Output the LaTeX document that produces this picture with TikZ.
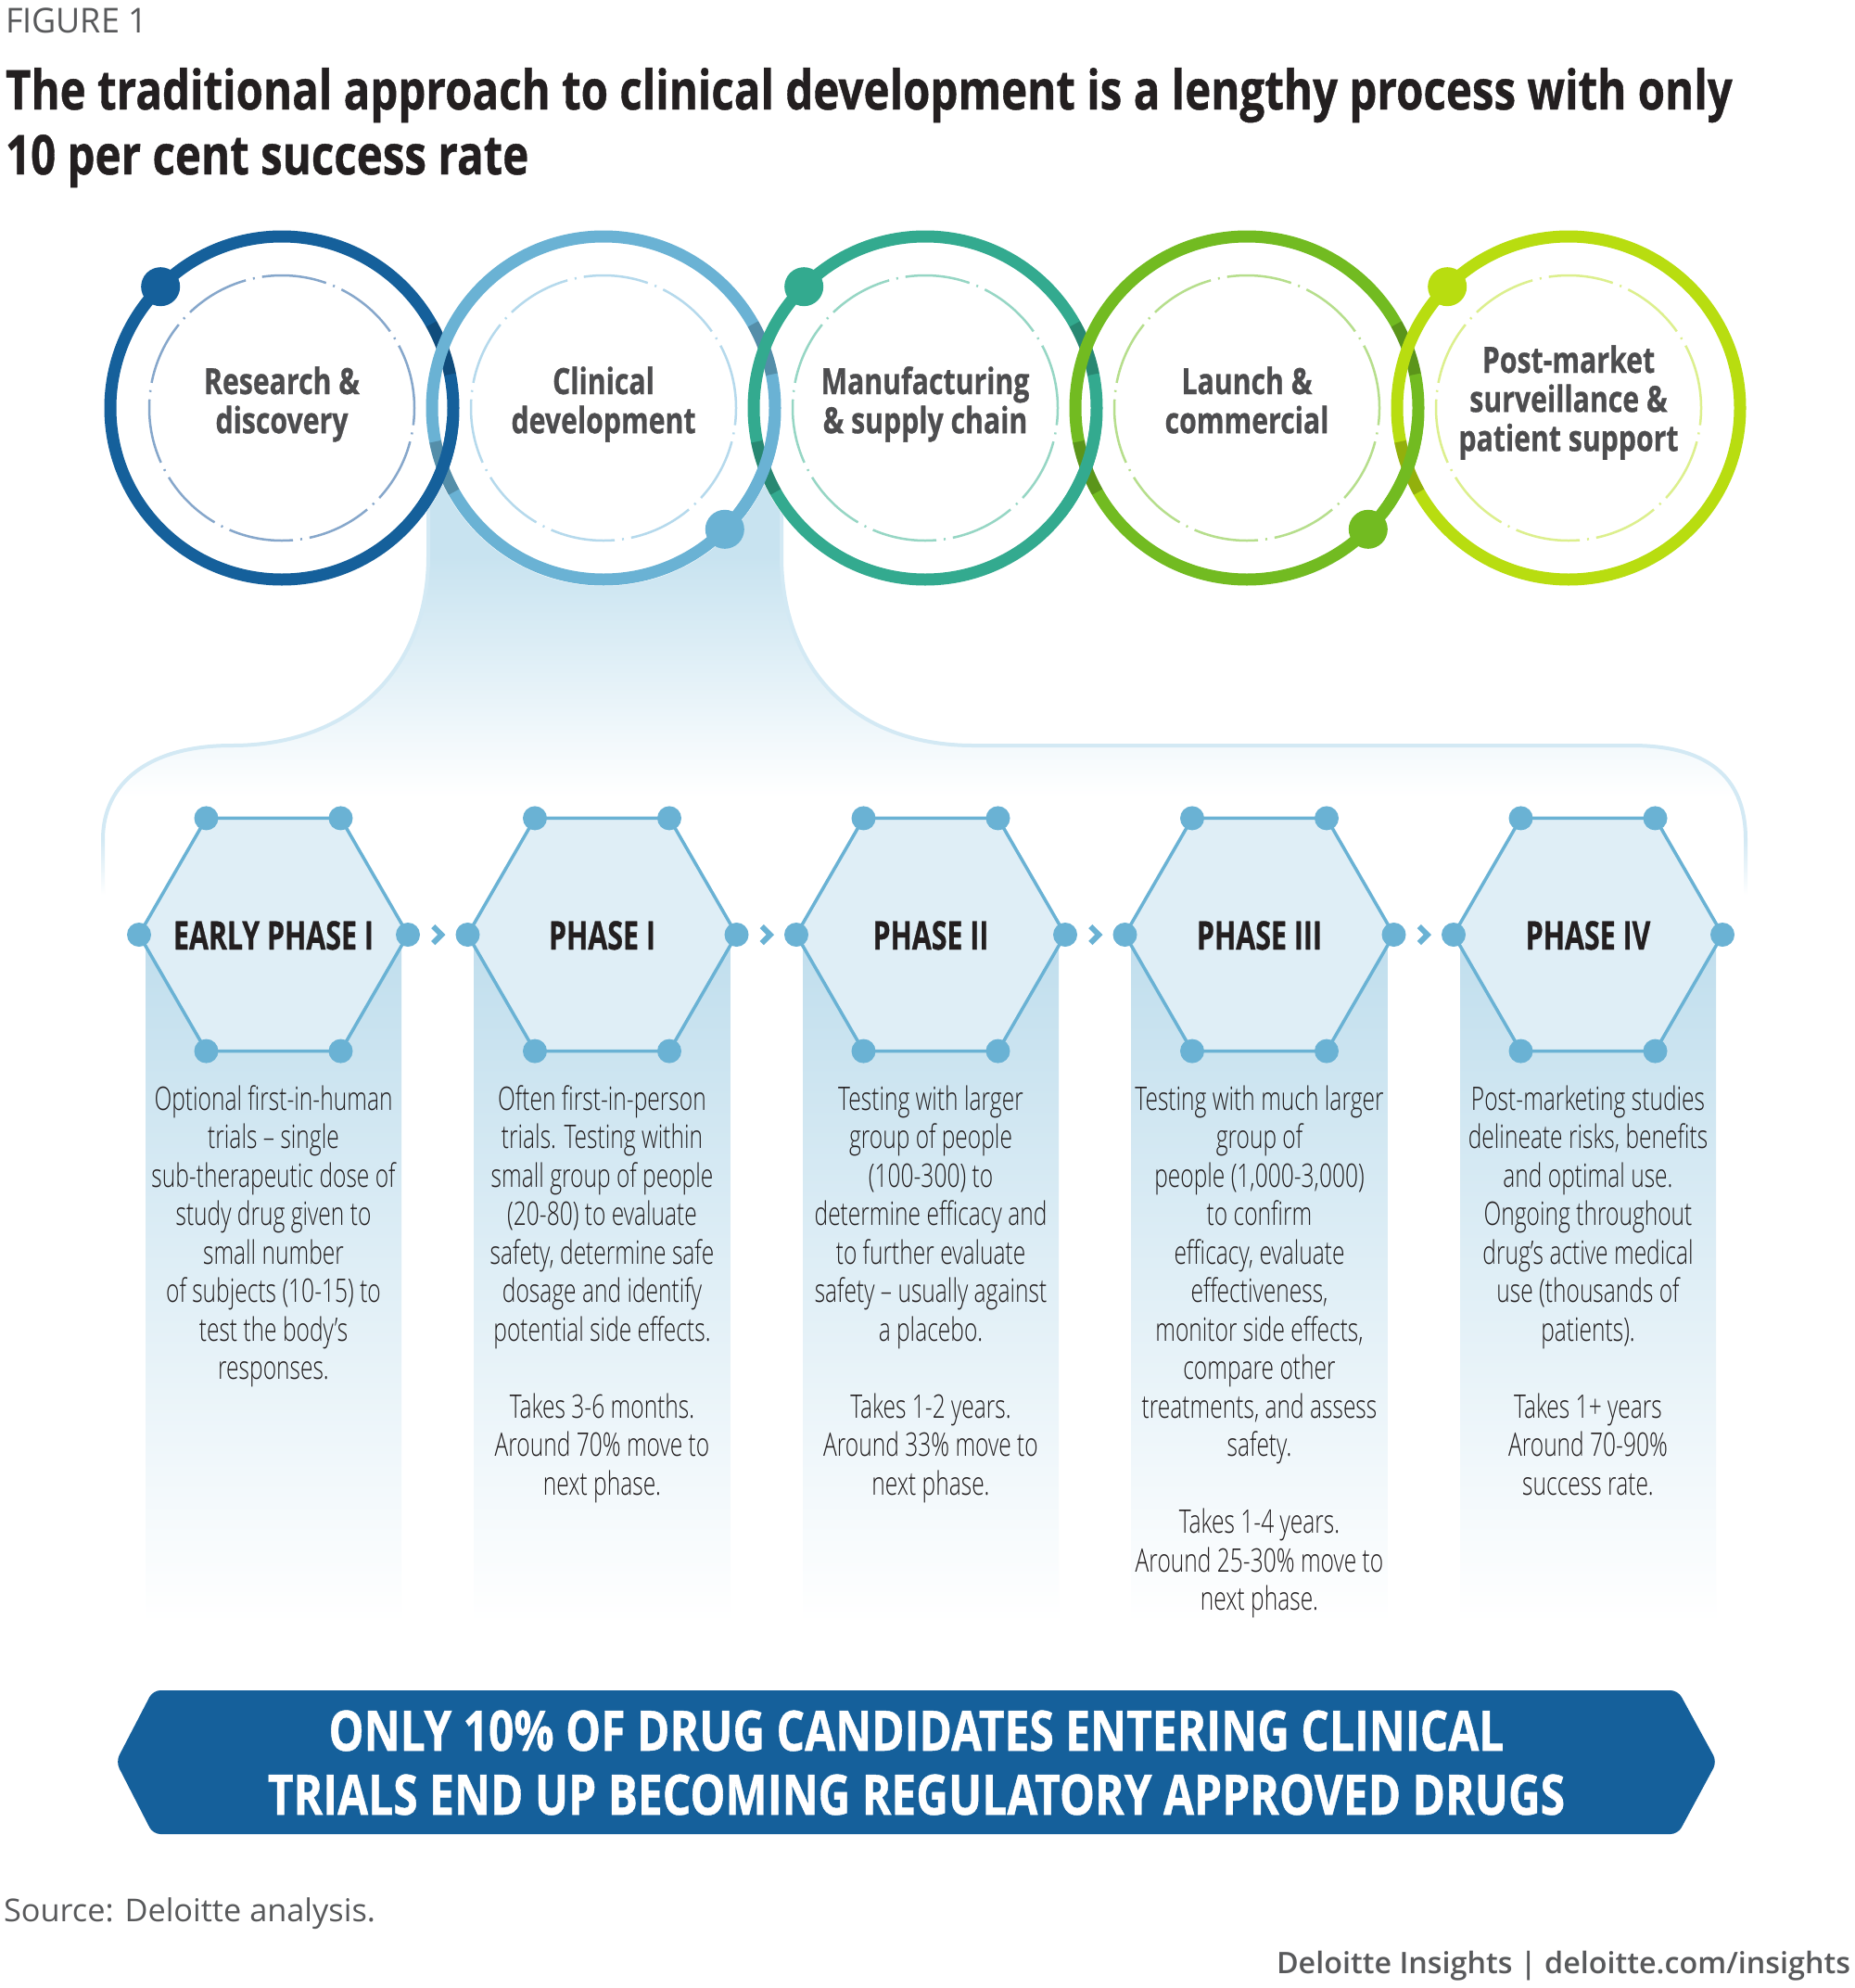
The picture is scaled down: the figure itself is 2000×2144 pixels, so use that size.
\documentclass[tikz,border=0pt]{standalone}
\usepackage{fontspec}
\usepackage{graphicx}
\setmainfont{Open Sans}
\newfontfamily\regf{Open Sans}
\IfFontExistsTF{Open Sans Light}{\newfontfamily\lightf{Open Sans Light}}{\newfontfamily\lightf{Open Sans}}
\IfFontExistsTF{Open Sans SemiBold}{\newfontfamily\semif{Open Sans SemiBold}}{%
  \IfFontExistsTF{Open Sans Semibold}{\newfontfamily\semif{Open Sans Semibold}}{\newfontfamily\semif[FakeBold=1.2]{Open Sans}}}
\IfFontExistsTF{Open Sans ExtraBold}{\newfontfamily\heavyf{Open Sans ExtraBold}}{\newfontfamily\heavyf[FakeBold=0.8]{Open Sans Bold}}

\definecolor{cA}{HTML}{15609B}
\definecolor{cB}{HTML}{6AB2D4}
\definecolor{cC}{HTML}{33AA8F}
\definecolor{cD}{HTML}{72BB21}
\definecolor{cE}{HTML}{B8DD10}
\definecolor{dA}{HTML}{86A7CB}
\definecolor{dB}{HTML}{B5D9EC}
\definecolor{dC}{HTML}{96D6C4}
\definecolor{dD}{HTML}{B6DE8C}
\definecolor{dE}{HTML}{DCEF8D}
\definecolor{lblgray}{HTML}{4D4D4F}
\definecolor{ink}{HTML}{231F20}
\definecolor{hexfill}{HTML}{DFEEF6}
\definecolor{colc}{HTML}{C0DEED}
\definecolor{funnelc}{HTML}{C8E3F0}
\definecolor{funnell}{HTML}{D3E9F4}
\definecolor{notegray}{HTML}{58595B}

\newsavebox\fitbox
\newcommand\fitw[2]{\sbox\fitbox{#2}\pgfmathsetmacro\fitfac{#1/\the\wd\fitbox}\scalebox{\fitfac}[1]{\usebox\fitbox}}
\newcommand\setfac[3]{\sbox\fitbox{#3}\pgfmathsetmacro\tmpfac{#2/\the\wd\fitbox}\global\let#1\tmpfac}
\newcommand\boldf[2]{\heavyf\fontsize{#1}{#2}\selectfont}
\newcommand\bodyf{\lightf\fontsize{35}{41.5}\selectfont}
\newcommand\labtext[1]{\boldf{39}{42}\scalebox{\labfac}[1]{\begin{tabular}[t]{@{}c@{}}#1\end{tabular}}}
\newcommand\hextext[1]{\boldf{42.5}{50}\scalebox{\hexfac}[1]{#1}}
\newcommand\bodytext[1]{\bodyf\scalebox{\bodyfac}[1]{\begin{tabular}[t]{@{}c@{}}#1\end{tabular}}}
\newcommand\ringarc[4]{\draw[ring,#2] (#1,-440) ++(#3:185) arc[start angle=#3,end angle=#4,radius=185];}
\newcommand\shadowarc[2]{\draw[line width=13pt,black,opacity=0.2] (#1,-440) ++(#2-9:185) arc[start angle=#2-9,end angle=#2+9,radius=185];}

\AtBeginDocument{%
\setfac\titlefac{1863}{\boldf{59}{70}The traditional approach to clinical development is a lengthy process with only}%
\setfac\labfac{168}{\boldf{39}{42}Research \&}%
\setfac\hexfac{216}{\boldf{42.5}{50}EARLY PHASE I}%
\setfac\bodyfac{257}{\bodyf Optional first-in-human}%
\setfac\banfac{1268}{\boldf{60}{69}ONLY 10\% OF DRUG CANDIDATES ENTERING CLINICAL}%
}

\begin{document}
\begin{tikzpicture}[x=1pt,y=1pt,
  every node/.style={inner sep=0pt,outer sep=0pt},
  ring/.style={line width=13pt},
  inring/.style={line width=2.5pt,dash pattern=on 70pt off 8pt on 2pt off 8pt},
  hexshape/.style={draw=cB,line width=3.5pt,fill=hexfill,line join=round},
  chev/.style={draw=cB,line width=6pt,line join=miter},
  funnelline/.style={draw=funnell,line width=4pt},
  lbl/.style={anchor=base,text=lblgray},
  hexlbl/.style={anchor=base,text=ink},
  bodytxt/.style={anchor=base,text=ink},
  notetext/.style={text=notegray}]
\useasboundingbox (0,0) rectangle (2000,-2144);
\fill[white] (0,0) rectangle (2000,-2144);

% header
\node[anchor=base west,notetext] (fig) at (6,-35) {\regf\fontsize{37}{44}\selectfont\fitw{153}{FIGURE 1}};
\node[anchor=base west,text=ink] (title) at (6,-118) {\boldf{59}{70}\scalebox{\titlefac}[1]{\begin{tabular}[t]{@{}l@{}}The traditional approach to clinical development is a lengthy process with only\\10 per cent success rate\end{tabular}}};

% funnel
\begin{scope}
\clip (462,-440) -- (462,-600) .. controls (462,-720) and (380,-804) .. (250,-804) .. controls (160,-804) and (111,-845) .. (111,-905) -- (111,-965) -- (1883,-965) -- (1883,-905) .. controls (1883,-845) and (1850,-804) .. (1760,-804) -- (1050,-804) .. controls (920,-804) and (843,-720) .. (843,-600) -- (843,-440) -- cycle;
\fill[funnelc] (0,-430) rectangle (2000,-600);
\fill[top color=funnelc,bottom color=white] (0,-600) rectangle (2000,-860);
\end{scope}
\draw[funnelline] (462,-470) -- (462,-600) .. controls (462,-720) and (380,-804) .. (250,-804) .. controls (160,-804) and (111,-845) .. (111,-905);
\draw[funnelline] (843,-470) -- (843,-600) .. controls (843,-720) and (920,-804) .. (1050,-804) -- (1760,-804) .. controls (1850,-804) and (1883,-845) .. (1883,-905);
\fill[top color=funnell,bottom color=white] (109,-905) rectangle (113,-965);
\fill[top color=funnell,bottom color=white] (1881,-905) rectangle (1885,-965);

% rings
\foreach \cx in {304,651,998,1345,1692} \fill[white] (\cx,-440) circle (192);
\draw[ring,cA] (304,-440) circle (185);
\shadowarc{304}{20.3}
\draw[ring,cB] (651,-440) circle (185);
\shadowarc{651}{200.3}
\ringarc{304}{cA}{-38}{-3}
\shadowarc{651}{20.3}
\draw[ring,cC] (998,-440) circle (185);
\shadowarc{998}{200.3}
\ringarc{651}{cB}{-38}{-3}
\shadowarc{998}{20.3}
\draw[ring,cD] (1345,-440) circle (185);
\shadowarc{1345}{200.3}
\ringarc{998}{cC}{-38}{-3}
\shadowarc{1345}{20.3}
\draw[ring,cE] (1692,-440) circle (185);
\shadowarc{1692}{200.3}
\ringarc{1345}{cD}{-38}{-3}

\foreach \cx/\dc/\rc/\da in {304/dA/cA/135,651/dB/cB/-45,998/dC/cC/135,1345/dD/cD/-45,1692/dE/cE/135}{
  \draw[inring,\dc] (\cx,-440) circle (143);
  \fill[\rc] (\cx,-440) ++(\da:185) circle (21);
}

\node[lbl] (r1) at (304,-425) {\labtext{Research \&\\discovery}};
\node[lbl] (r2) at (651,-425) {\labtext{Clinical\\development}};
\node[lbl] (r3) at (998,-425) {\labtext{Manufacturing\\\& supply chain}};
\node[lbl] (r4) at (1345,-425) {\labtext{Launch \&\\commercial}};
\node[lbl] (r5) at (1692,-402) {\labtext{Post-market\\surveillance \&\\patient support}};

% columns and hexagons
\foreach \hx [count=\i] in {295,649.5,1004,1358.5,1713}{
  \fill[top color=colc,bottom color=white] (\hx-138,-1008) rectangle (\hx+138,-1750);
  \begin{scope}[shift={(\hx,-1008)}]
    \coordinate (hc\i) at (0,0);
    \draw[hexshape] (0:145) -- (60:145) -- (120:145) -- (180:145) -- (240:145) -- (300:145) -- cycle;
    \foreach \a in {0,60,...,300} \fill[cB] (\a:145) circle (13);
  \end{scope}
}
\foreach \mx in {472.25,826.75,1181.25,1535.75}
  \draw[chev] (\mx-5,-999) -- (\mx+4,-1008) -- (\mx-5,-1017);

\node[hexlbl] (p1) at (295,-1024) {\hextext{EARLY PHASE I}};
\node[hexlbl] (p2) at (649.5,-1024) {\hextext{PHASE I}};
\node[hexlbl] (p3) at (1004,-1024) {\hextext{PHASE II}};
\node[hexlbl] (p4) at (1358.5,-1024) {\hextext{PHASE III}};
\node[hexlbl] (p5) at (1713,-1024) {\hextext{PHASE IV}};

\node[bodytxt] (t1) at (295,-1197) {\bodytext{Optional first-in-human\\trials – single\\sub-therapeutic dose of\\study drug given to\\small number\\of subjects (10-15) to\\test the body’s\\responses.}};
\node[bodytxt] (t2) at (649.5,-1197) {\bodytext{Often first-in-person\\trials. Testing within\\small group of people\\(20-80) to evaluate\\safety, determine safe\\dosage and identify\\potential side effects.\\[41.5pt]Takes 3-6 months.\\Around 70\% move to\\next phase.}};
\node[bodytxt] (t3) at (1004,-1197) {\bodytext{Testing with larger\\group of people\\(100-300) to\\determine efficacy and\\to further evaluate\\safety – usually against\\a placebo.\\[41.5pt]Takes 1-2 years.\\Around 33\% move to\\next phase.}};
\node[bodytxt] (t4) at (1358.5,-1197) {\bodytext{Testing with much larger\\group of\\people (1,000-3,000)\\to confirm\\efficacy, evaluate\\effectiveness,\\monitor side effects,\\compare other\\treatments, and assess\\safety.\\[41.5pt]Takes 1-4 years.\\Around 25-30\% move to\\next phase.}};
\node[bodytxt] (t5) at (1713,-1197) {\bodytext{Post-marketing studies\\delineate risks, benefits\\and optimal use.\\Ongoing throughout\\drug’s active medical\\use (thousands of\\patients).\\[41.5pt]Takes 1+ years\\Around 70-90\%\\success rate.}};

% banner
\fill[cA,rounded corners=8pt] (125,-1900) -- (165,-1823) -- (1810,-1823) -- (1852,-1900) -- (1810,-1978) -- (165,-1978) -- cycle;
\node[anchor=base,text=white] (ban) at (988.5,-1888) {\boldf{60}{69}\scalebox{\banfac}[1]{\begin{tabular}[t]{@{}c@{}}ONLY 10\% OF DRUG CANDIDATES ENTERING CLINICAL\\TRIALS END UP BECOMING REGULATORY APPROVED DRUGS\end{tabular}}};

% footer
\node[anchor=base west,notetext] (src) at (4,-2072) {\regf\fontsize{34}{40}\selectfont\fitw{401}{Source: Deloitte analysis.}};
\node[anchor=base east,notetext] (foot) at (1996,-2128) {\semif\fontsize{32}{38}\selectfont\fitw{619}{Deloitte Insights | deloitte.com/insights}};
\end{tikzpicture}
\end{document}
